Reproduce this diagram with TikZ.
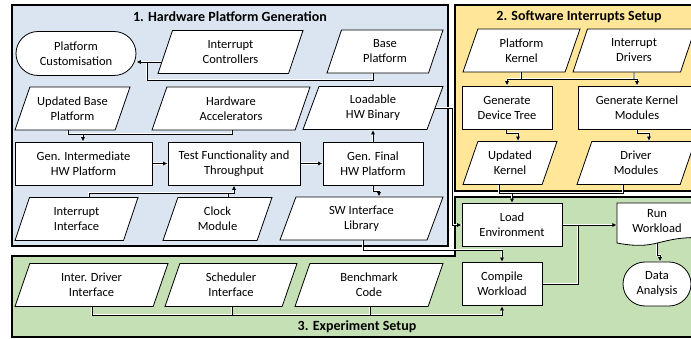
\documentclass[tikz,border=0pt]{standalone}
\usepackage{fontspec}
\setmainfont{Carlito}
\usetikzlibrary{shapes.geometric,shapes.misc,arrows.meta}
\pgfdeclarelayer{bg}
\pgfdeclarelayer{edges}
\pgfsetlayers{bg,edges,main}
\definecolor{secblue}{HTML}{DBE5F1}
\definecolor{secyellow}{HTML}{FFE699}
\definecolor{secgreen}{HTML}{C5E0B4}
\tikzset{
  basebox/.style={draw, line width=0.8pt, fill=white, align=center, inner sep=1pt,
    font=\fontsize{12.5}{15}\selectfont},
  procbox/.style={basebox, rectangle, minimum width=#1, minimum height=43},
  databox/.style={basebox, trapezium, trapezium left angle=60, trapezium right angle=120,
    trapezium stretches body, minimum width=#1, minimum height=43},
  termbox/.style={basebox, rounded rectangle, minimum width=#1, minimum height=44},
  secbox/.style={draw, line width=1.1pt},
  sectitle/.style={font=\fontsize{14}{16}\selectfont\bfseries},
}
\newcommand\myconnectors{%
  % hardware section
  \path[conn,arr] (ic.center |- 0,62) -- (pc.east |- 0,62);
  \path[conn] (bp.south -| 373,0) -- (373,80) -- (147,80) -- (147,62);
  \path[conn] (ubp.south -| 68,0) -- (68,134) -- (232,134) -- (hwa.south -| 232,0);
  \path[conn,arr] (83,134) -- (gih.north -| 83,0);
  \path[conn,arr] (gih.east) -- (tft.west);
  \path[conn,arr] (tft.east) -- (gfh.west);
  \path[conn,arr] (gfh.north) -- (lhb.south -| gfh.north);
  \path[conn] (cm.north -| 228,0) -- (228,193);
  \path[conn,arr] (ii.north -| 89,0) -- (89,193) -- (234,193) -- (tft.south -| 234,0);
  \path[conn,arr] (gfh.south) -- (373,191) -- (379,191) -- (swi.north -| 379,0);
  \path[conn,arr] (lhb.center) -- (452,108) -- (452,225) -- (le.west);
  % software section
  \path[conn] (pk.south -| 521,0) -- (521,79);
  \path[conn,arr] (507,79) -- (gdt.north);
  \path[conn,arr] (507,79) -- (637,79) -- (gkm.north);
  \path[conn] (id.south) -- (634,79);
  \path[conn,arr] (gdt.south -| 506,0) -- (506,133) -- (518,133) -- (uk.north -| 518,0);
  \path[conn,arr] (gkm.south) -- (637,133) -- (649,133) -- (dm.north -| 649,0);
  \path[conn] (uk.south -| 499,0) -- (499,193) -- (623,193) -- (dm.south -| 623,0);
  \path[conn,arr] (512,193) -- (le.north);
  % experiment section
  \path[conn,arr] (le.east) -- (rw.west |- le.east);
  \path[conn] (cw.east) -- (578,284) -- (578,225);
  \path[conn,arr] (rw.center) -- (657,255) -- (660,255) -- (da.north -| 660,0);
  \path[conn,arr] (swi.south -| 363,0) -- (363,250) -- (502,250) -- (cw.north);
  \path[conn,arr] (idi.south -| 92,0) -- (92,315) -- (502,315) -- (cw.south);
  \path[conn] (si.south -| 232,0) -- (232,315);
  \path[conn] (bc.south -| 370,0) -- (370,315);
}
\begin{document}
\begin{tikzpicture}[x=1pt,y=-1pt]
\useasboundingbox (0,0) rectangle (691,339);
% sections
\begin{pgfonlayer}{bg}
  \filldraw[secbox, fill=secblue] (12,5) rectangle (448,246);
  \filldraw[secbox, fill=secyellow] (455,5) rectangle (700,191);
  \filldraw[secbox, fill=secgreen] (12,256) -- (455,256) -- (455,197) -- (700,197)
     -- (700,337) -- (12,337) -- cycle;
\end{pgfonlayer}
\node[sectitle] (t1) at (230,17) {1. Hardware Platform Generation};
\node[sectitle] (t2) at (579,17) {2. Software Interrupts Setup};
\node[sectitle] (t3) at (357,327) {3. Experiment Setup};
% hardware section
\node[termbox=122] (pc) at (76,53.5) {Platform\\Customisation};
\node[databox=145] (ic) at (230.5,52) {Interrupt\\Controllers};
\node[databox=116] (bp) at (385,51.5) {Base\\Platform};
\node[databox=115] (ubp) at (72.5,108.5) {Updated Base\\Platform};
\node[databox=158] (hwa) at (231,108.5) {Hardware\\Accelerators};
\node[databox=140] (lhb) at (373,108) {Loadable\\HW Binary};
\node[procbox=137] (gih) at (83.5,163.5) {Gen. Intermediate\\HW Platform};
\node[procbox=132] (tft) at (234,163.5) {Test Functionality and\\Throughput};
\node[procbox=100] (gfh) at (373,163.5) {Gen. Final\\HW Platform};
\node[databox=123] (ii) at (76.5,219) {Interrupt\\Interface};
\node[databox=109] (cm) at (217.5,219) {Clock\\Module};
\node[databox=163] (swi) at (361.5,218.5) {SW Interface\\Library};
% software section
\node[databox=117] (pk) at (521.5,50.5) {Platform\\Kernel};
\node[databox=122] (id) at (634,50.5) {Interrupt\\Drivers};
\node[procbox=90] (gdt) at (507,107.5) {Generate\\Device Tree};
\node[procbox=118] (gkm) at (637,107.5) {Generate Kernel\\Modules};
\node[databox=94] (uk) at (510,163) {Updated\\Kernel};
\node[databox=118] (dm) at (636,163) {Driver\\Modules};
% experiment section
\node[procbox=100] (le) at (512,225) {Load\\Environment};
\node[procbox=80] (cw) at (502,284) {Compile\\Workload};
\draw[line width=0.8pt, fill=white] (617,203) -- (697,203) -- (697,237.5)
   .. controls (657,237.5) and (657,250.6) .. (617,243) -- cycle;
\node[align=center, inner sep=1pt, minimum width=80, minimum height=40,
   font=\fontsize{12.5}{15}\selectfont] (rw) at (657,221) {Run\\Workload};
\node[termbox=70] (da) at (657,284) {Data\\Analysis};
\node[databox=153] (idi) at (91.5,285) {Inter. Driver\\Interface};
\node[databox=132] (si) at (231,285) {Scheduler\\Interface};
\node[databox=148] (bc) at (369,285) {Benchmark\\Code};
% connectors
\begin{pgfonlayer}{edges}
  \begin{scope}[conn/.style={draw=white, line width=2.4pt}, arr/.style={}]
    \myconnectors
  \end{scope}
  \begin{scope}[conn/.style={draw=black, line width=0.8pt},
                arr/.style={-{Latex[length=4.5pt,width=4pt]}}]
    \myconnectors
  \end{scope}
\end{pgfonlayer}
\end{tikzpicture}
\end{document}
